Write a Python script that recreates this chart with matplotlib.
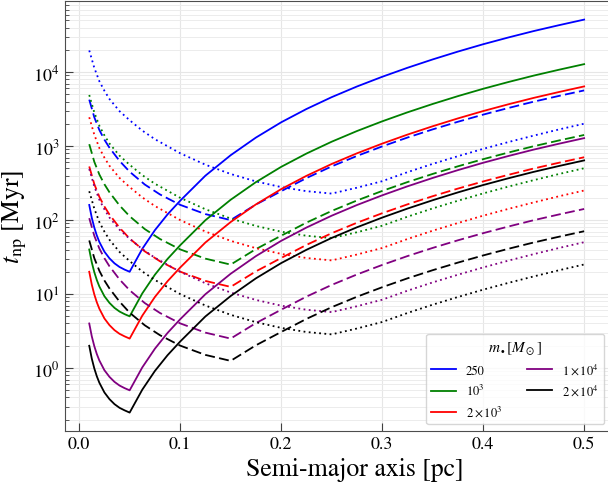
import matplotlib

matplotlib.use("Agg")
import matplotlib.pyplot as plt

plt.rcParams["font.family"] = ["STIXGeneral", "DejaVu Serif"]
plt.rcParams["mathtext.fontset"] = "stix"

# semi-major axis samples [pc] for the three line styles
a_solid = [0.01, 0.0125, 0.015, 0.0175, 0.02, 0.025, 0.03, 0.035, 0.04, 0.045, 0.05,
           0.0625, 0.075, 0.0875, 0.1, 0.125, 0.15, 0.175, 0.2, 0.225, 0.25, 0.275, 0.3,
           0.325, 0.35, 0.375, 0.4, 0.425, 0.45, 0.475, 0.5]
a_dashed = [0.01, 0.015, 0.02, 0.025, 0.03, 0.04, 0.05, 0.065, 0.08, 0.1, 0.125, 0.15,
            0.175, 0.2, 0.225, 0.25, 0.275, 0.3, 0.325, 0.35, 0.375, 0.4, 0.425, 0.45,
            0.475, 0.5]
a_dotted = [0.01, 0.015, 0.02, 0.025, 0.03, 0.04, 0.05, 0.0625, 0.075, 0.1, 0.125, 0.15,
            0.175, 0.2, 0.225, 0.25, 0.275, 0.3, 0.325, 0.35, 0.375, 0.4, 0.425, 0.45,
            0.475, 0.5]

# t_np [Myr], solid lines
t_solid_250 = [160, 107.4, 79, 61.8, 50.6, 37.4, 30.4, 26, 23.2, 21.4, 20, 40.8, 73, 119.2,
               182.4, 398, 752, 1302, 2094, 3166, 4580, 6380, 8630, 11420, 14820, 18920,
               23780, 29360, 35820, 43000, 51200]
t_solid_1e3 = [40, 26.85, 19.75, 15.45, 12.65, 9.35, 7.6, 6.5, 5.8, 5.35, 5, 10.2, 18.25,
               29.8, 45.6, 99.5, 188, 325.5, 523.5, 791.5, 1145, 1595, 2157.5, 2855, 3705,
               4730, 5945, 7340, 8955, 10750, 12800]
t_solid_2e3 = [20, 13.43, 9.88, 7.73, 6.33, 4.68, 3.8, 3.25, 2.9, 2.68, 2.5, 5.1, 9.13, 14.9,
               22.8, 49.75, 94, 162.75, 261.75, 395.75, 572.5, 797.5, 1078.75, 1427.5,
               1852.5, 2365, 2972.5, 3670, 4477.5, 5375, 6400]
t_solid_1e4 = [4.0, 2.685, 1.975, 1.545, 1.265, 0.935, 0.76, 0.65, 0.58, 0.535, 0.5, 1.02,
               1.825, 2.98, 4.56, 9.95, 18.8, 32.55, 52.35, 79.15, 114.5, 159.5, 215.75,
               285.5, 370.5, 473, 594.5, 734, 895.5, 1075, 1280]
t_solid_2e4 = [2.0, 1.343, 0.988, 0.773, 0.633, 0.468, 0.38, 0.325, 0.29, 0.268, 0.25, 0.51,
               0.913, 1.49, 2.28, 4.98, 9.4, 16.3, 26.2, 39.6, 57.3, 79.8, 107.9, 142.8,
               185.3, 236.5, 297.3, 367, 447.8, 537.5, 640]

# dashed lines
t_dashed_250 = [4240, 2450, 1650, 1220, 950, 630, 450, 302, 222, 160.6, 120.4, 100, 162,
                245.5, 369, 531, 735, 989, 1303, 1680, 2130, 2660, 3270, 3980, 4760, 5650]
t_dashed_1e3 = [1060, 612.5, 412.5, 305, 237.5, 157.5, 112.5, 75.5, 55.5, 40.15, 30.1, 25,
                40.5, 61.4, 92.25, 132.75, 183.75, 247.25, 325.75, 420, 532.5, 665, 817.5,
                995, 1190, 1412.5]
t_dashed_2e3 = [530, 306, 206, 152.5, 118.75, 78.75, 56.25, 37.75, 27.75, 20.08, 15.05, 12.5,
                20.25, 30.7, 46.1, 66.4, 91.9, 123.6, 162.9, 210, 266.25, 332.5, 408.75,
                497.5, 595, 706.25]
t_dashed_1e4 = [106, 61.25, 41.25, 30.5, 23.75, 15.75, 11.25, 7.55, 5.55, 4.015, 3.01, 2.5,
                4.05, 6.14, 9.225, 13.275, 18.375, 24.725, 32.575, 42, 53.25, 66.5, 81.75,
                99.5, 119, 141.25]
t_dashed_2e4 = [53, 30.6, 20.6, 15.25, 11.9, 7.9, 5.6, 3.78, 2.78, 2.01, 1.505, 1.25, 2.03,
                3.07, 4.61, 6.64, 9.19, 12.36, 16.29, 21, 26.6, 33.25, 40.9, 49.75, 59.5,
                70.6]

# dotted lines
t_dotted_250 = [19600, 11400, 7520, 5590, 4330, 2960, 2234, 1619, 1238, 800, 560, 419.5,
                333, 279, 245.8, 228, 273.6, 335, 443.5, 574.6, 729.6, 916.6, 1133, 1384,
                1676, 2006]
t_dotted_1e3 = [4900, 2850, 1880, 1397, 1083, 741, 558.6, 404.7, 309.5, 200, 140, 104.9,
                83.3, 69.7, 61.4, 57, 68.4, 83.8, 110.9, 143.6, 182.4, 229.1, 283.3, 346,
                419, 501.6]
t_dotted_2e3 = [2450, 1425, 940, 698, 541.5, 370.5, 279.3, 202.4, 154.8, 100, 70, 52.4, 41.7,
                34.9, 30.7, 28.5, 34.2, 41.9, 55.4, 71.8, 91.2, 114.6, 141.6, 173, 209.5,
                250.8]
t_dotted_1e4 = [490, 285, 188, 139.7, 108.3, 74.1, 55.9, 40.5, 30.95, 20, 14, 10.49, 8.33,
                6.97, 6.14, 5.7, 6.84, 8.38, 11.09, 14.36, 18.24, 22.9, 28.3, 34.6, 41.9,
                50.2]
t_dotted_2e4 = [245, 142.5, 94, 69.8, 54.2, 37.05, 27.9, 20.2, 15.5, 10, 7.0, 5.24, 4.17,
                3.49, 3.07, 2.85, 3.42, 4.19, 5.54, 7.18, 9.12, 11.46, 14.16, 17.3, 20.95,
                25.1]

mass_labels = ["250", r"$10^3$", r"$2\times10^3$", r"$1\times10^4$", r"$2\times10^4$"]
colors = ["blue", "green", "red", "purple", "black"]

solid = [t_solid_250, t_solid_1e3, t_solid_2e3, t_solid_1e4, t_solid_2e4]
dashed = [t_dashed_250, t_dashed_1e3, t_dashed_2e3, t_dashed_1e4, t_dashed_2e4]
dotted = [t_dotted_250, t_dotted_1e3, t_dotted_2e3, t_dotted_1e4, t_dotted_2e4]

fig = plt.figure(figsize=(6.08, 4.85), dpi=100)
# the axes run past the right edge of the image, as in the reference
ax = fig.add_axes([0.1061, 0.1093, 0.9543, 0.8856])

lw = 1.3
for i, c in enumerate(colors):
    ax.plot(a_solid, solid[i], color=c, lw=lw, ls="-", label=mass_labels[i])
    ax.plot(a_dashed, dashed[i], color=c, lw=lw, ls=(0, (5.5, 2.4)))
    ax.plot(a_dotted, dotted[i], color=c, lw=lw, ls=(0, (1, 1.9)))

ax.set_yscale("log")
ax.set_xlim(-0.0145, 0.56)
ax.set_ylim(0.141, 9.0e4)
ax.set_xticks([0.0, 0.1, 0.2, 0.3, 0.4, 0.5])

ax.grid(True, which="major", color="#e6e6e6", lw=0.8)
ax.grid(True, which="minor", axis="y", color="#ececec", lw=0.7)
ax.set_axisbelow(True)

ax.tick_params(which="both", direction="in", labelsize=13, colors="0.25", labelcolor="black")
ax.tick_params(which="major", length=6)
ax.tick_params(which="minor", length=3)
for s in ax.spines.values():
    s.set_color("0.3")
ax.spines["right"].set_visible(False)

ax.set_xlabel("Semi-major axis [pc]", fontsize=18.5)
ax.set_ylabel(r"$t_{\rm np}$ [Myr]", fontsize=18.5)
ax.yaxis.set_label_coords(-0.0605, 0.5)

# legend pinned to the lower right corner of the visible plot area
ax.legend(title=r"$m_\bullet[M_\odot]$", ncol=2, loc="lower right", fontsize=9,
          title_fontsize=11, bbox_to_anchor=(604 / 608, 60 / 485),
          bbox_transform=fig.transFigure, borderaxespad=0.0)

fig.savefig("out.png", dpi=100)
